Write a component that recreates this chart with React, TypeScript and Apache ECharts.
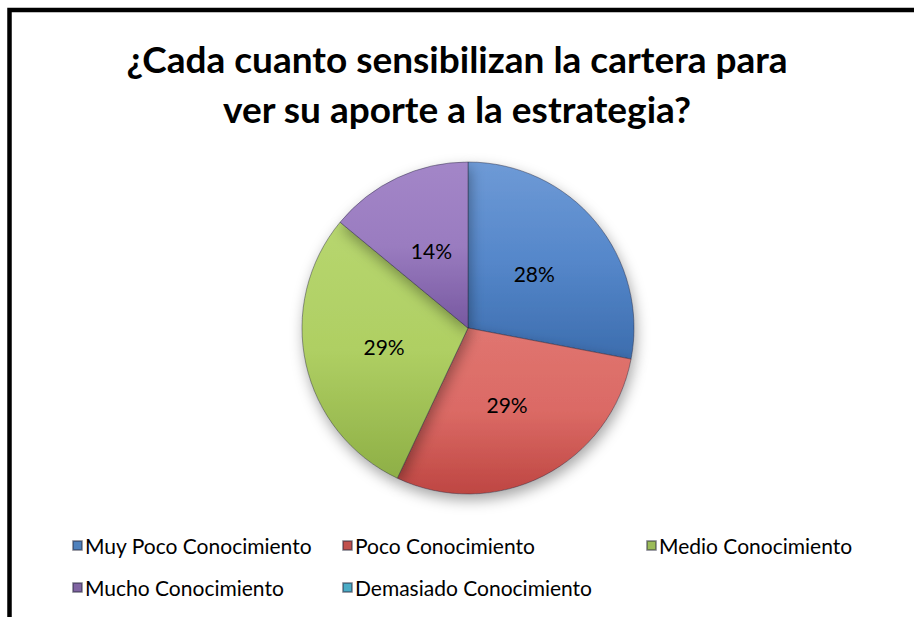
import React, { useEffect, useRef } from "react";
import * as echarts from "echarts";

const titleText = "¿Cada cuanto sensibilizan la cartera para\nver su aporte a la estrategia?";
const categories = [
  "Muy Poco Conocimiento",
  "Poco Conocimiento",
  "Medio Conocimiento",
  "Mucho Conocimiento",
  "Demasiado Conocimiento",
];
const values = [28, 29, 29, 14, 0];
const baseColors = ["#4F81BD", "#C0504D", "#9BBB59", "#8064A2", "#4BACC6"];
const midColors = ["#5587CA", "#DB6A65", "#AFCF63", "#9A7CC0", "#5FBAD2"];
const lightColors = ["#6E9AD6", "#E07570", "#B7D66F", "#A386C8", "#6CC4DC"];
const darkColors = ["#3C6DAE", "#BE4642", "#8EAF46", "#7758A0", "#3A9CB6"];

// legend layout: [left, top] per legend item
const legendPos: [number, number][] = [
  [72, 535],
  [342, 535],
  [646, 535],
  [72, 577],
  [342, 577],
];

export default function App() {
  const ref = useRef<HTMLDivElement>(null);
  useEffect(() => {
    if (!ref.current) return;
    const chart = echarts.init(ref.current, null, { renderer: "svg" });
    const data = categories.map((name, i) => ({
      name,
      value: values[i],
      itemStyle: {
        color: new echarts.graphic.LinearGradient(0, 0, 0, 1, [
          { offset: 0, color: lightColors[i] },
          { offset: 0.5, color: midColors[i] },
          { offset: 1, color: darkColors[i] },
        ]),
      },
      label: { show: values[i] > 0 },
    }));
    chart.setOption({
      animation: false,
      backgroundColor: "#ffffff",
      title: {
        text: titleText,
        left: "center",
        top: 28,
        textStyle: {
          fontFamily: "Lato",
          fontWeight: "bold",
          fontSize: 37,
          lineHeight: 50,
          color: "#000000",
        },
      },
      legend: categories.map((name, i) => ({
        data: [{ name, itemStyle: { color: baseColors[i] } }],
        left: legendPos[i][0],
        top: legendPos[i][1],
        icon: "rect",
        itemWidth: 9,
        itemHeight: 9,
        itemGap: 0,
        padding: 0,
        selectedMode: false,
        textStyle: {
          fontFamily: "Lato",
          fontSize: 21,
          color: "#000000",
          padding: [0, 0, 0, -2],
        },
      })),
      graphic: [
        {
          type: "polyline",
          shape: {
            points: [
              [9.5, 640],
              [9.5, 10],
              [930, 10],
            ],
          },
          style: { stroke: "#000000", lineWidth: 4.5, fill: "none" },
          z: 100,
        },
      ],
      series: [
        {
          type: "pie",
          center: [468, 328],
          radius: [0, 166],
          startAngle: 90,
          clockwise: true,
          data,
          itemStyle: {
            borderColor: "rgba(40,40,60,0.45)",
            borderWidth: 1,
            shadowBlur: 14,
            shadowColor: "rgba(0,0,0,0.35)",
            shadowOffsetY: 6,
            shadowOffsetX: 2,
          },
          label: {
            show: true,
            position: "inside",
            formatter: (p: any) => `${p.value}%`,
            fontFamily: "Lato",
            fontSize: 21,
            color: "#000000",
          },
          labelLine: { show: false },
          emphasis: { disabled: true },
        },
      ],
    });
    return () => chart.dispose();
  }, []);
  return (
    <div
      ref={ref}
      style={{ position: "absolute", left: 0, top: 0, width: 914, height: 617 }}
    />
  );
}
